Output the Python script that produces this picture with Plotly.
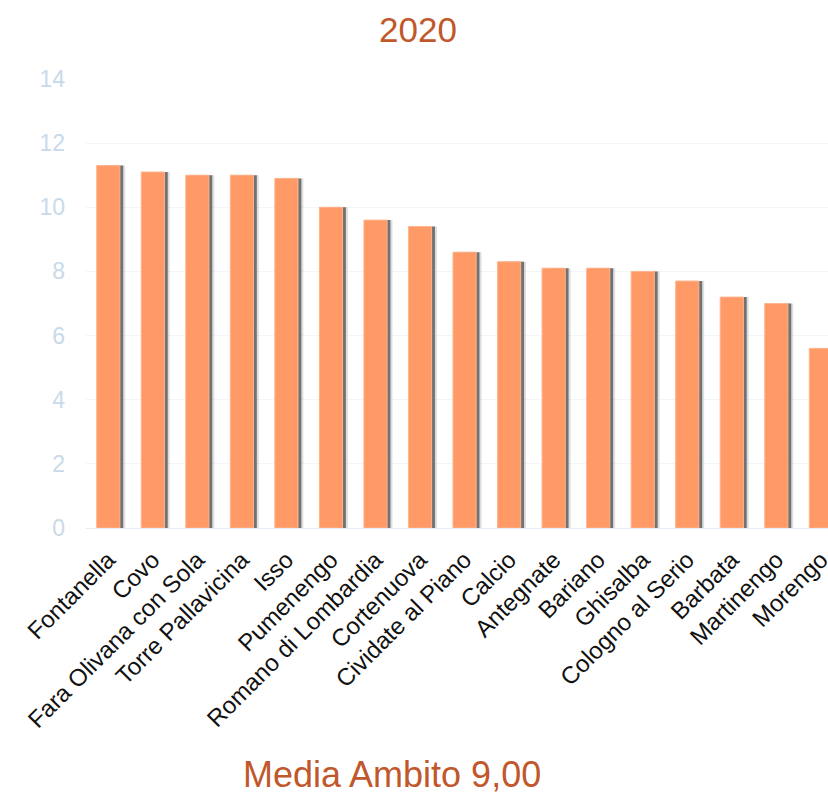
import plotly.graph_objects as go

comuni = ["Fontanella", "Covo", "Fara Olivana con Sola", "Torre Pallavicina", "Isso",
          "Pumenengo", "Romano di Lombardia", "Cortenuova", "Cividate al Piano", "Calcio",
          "Antegnate", "Bariano", "Ghisalba", "Cologno al Serio", "Barbata",
          "Martinengo", "Morengo"]
valori = [11.3, 11.1, 11.0, 11.0, 10.9, 10.0, 9.6, 9.4, 8.6, 8.3, 8.1, 8.1, 8.0, 7.7, 7.2, 7.0, 5.6]
anno = "2020"
media_label = "Media Ambito 9,00"
y_ticks = [0, 2, 4, 6, 8, 10, 12, 14]

FONT = "Liberation Sans, Arial, sans-serif"
W, H = 828, 793
L, R_EDGE = 86, 828
TOP, BOT = 79, 528

xs = list(range(len(comuni)))
bw = 0.52

fig = go.Figure()
# soft shadow layers
fig.add_trace(go.Bar(x=xs, y=valori, width=bw, offset=-bw/2 + 0.12,
                     marker=dict(color="rgba(160,160,160,0.35)", line=dict(width=0)),
                     hoverinfo="skip", showlegend=False))
fig.add_trace(go.Bar(x=xs, y=valori, width=bw, offset=-bw/2 + 0.075,
                     marker=dict(color="rgba(95,95,95,0.85)", line=dict(width=0)),
                     hoverinfo="skip", showlegend=False))
fig.add_trace(go.Bar(x=xs, y=valori, width=bw, offset=-bw/2,
                     marker=dict(color="#FF9966", line=dict(width=1, color="#FFB48C")),
                     showlegend=False))

fig.update_layout(
    width=W, height=H,
    margin=dict(l=L, r=W - R_EDGE, t=TOP, b=H - BOT, pad=0, autoexpand=False),
    paper_bgcolor="white", plot_bgcolor="white",
    barmode="overlay",
    font=dict(family=FONT, size=22, color="#111111"),
    xaxis=dict(
        tickmode="array", tickvals=xs, ticktext=comuni,
        tickangle=-45, range=[-0.5, 16.16],
        showgrid=False, zeroline=False, showline=False,
        tickfont=dict(family=FONT, size=24, color="#111111"),
        ticklabelstandoff=12,
        ticklabeloverflow="allow",
        automargin=False,
    ),
    yaxis=dict(
        range=[0, 14], tickvals=y_ticks,
        showgrid=True, gridcolor="#F2F5F9", gridwidth=1,
        zeroline=True, zerolinecolor="#E6ECF3", zerolinewidth=1,
        showline=False,
        tickfont=dict(family=FONT, size=23, color="#C8DAEA"),
        ticklabelstandoff=20,
        automargin=False,
    ),
    annotations=[
        dict(text=anno, xref="paper", yref="paper",
             x=(418 - L) / (R_EDGE - L), y=(BOT - 30) / (BOT - TOP),
             xanchor="center", yanchor="middle", showarrow=False,
             font=dict(family=FONT, size=35, color="#C0582C")),
        dict(text=media_label, xref="paper", yref="paper",
             x=(392 - L) / (R_EDGE - L), y=(BOT - 774) / (BOT - TOP),
             xanchor="center", yanchor="middle", showarrow=False, borderpad=0,
             font=dict(family=FONT, size=36, color="#C0582C")),
    ],
)

fig.write_html("out.html")
